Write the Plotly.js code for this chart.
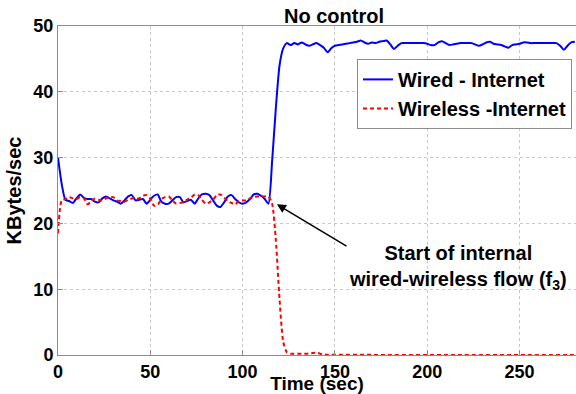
<!DOCTYPE html>
<html>
<head>
<meta charset="utf-8">
<script src="https://cdn.plot.ly/plotly-3.0.1.min.js"></script>
<style>html,body{margin:0;padding:0;background:#fff;}#chart{width:576px;height:394px;}</style>
</head>
<body>
<div id="chart"></div>
<script>
// Time (sec)
const timeSec = [0,2,4,6,8,10,12,14,16,18,20,22,24,26,28,30,32,34,36,38,40,42,44,46,48,50,52,54,56,58,60,62,64,66,68,70,72,74,76,78,80,82,84,86,88,90,92,94,96,98,100,102,104,106,108,110,112,114,116,118,120,122,124,126,128,130,132,134,136,138,140,142,144,146,148,150,152,154,156,158,160,162,164,166,168,170,172,174,176,178,180,182,184,186,188,190,192,194,196,198,200,202,204,206,208,210,212,214,216,218,220,222,224,226,228,230,232,234,236,238,240,242,244,246,248,250,252,254,256,258,260,262,264,266,268,270,272,274,276,278,280];

// Wired - Internet (KBytes/sec)
const wiredInternet = [30.0,26.0,23.6,23.4,23.1,23.8,24.4,23.9,23.7,23.7,23.3,23.2,23.8,24.1,23.8,23.5,23.3,23.0,23.5,24.1,24.3,23.5,23.6,23.7,23.0,23.6,24.2,24.4,23.3,23.0,23.0,23.5,24.0,24.0,23.2,23.4,23.6,23.0,23.8,24.4,24.5,24.3,23.5,22.7,22.5,23.2,24.1,24.3,23.7,23.2,23.0,23.2,23.7,24.4,24.5,24.2,23.7,23.0,29.5,37.5,44.0,46.6,47.4,47.1,47.4,47.2,47.5,47.2,47.0,47.2,47.4,47.1,46.7,46.0,46.6,47.0,47.1,47.2,47.3,47.4,47.5,47.6,47.8,47.5,47.3,47.5,47.4,47.6,47.7,47.8,47.2,46.5,47.0,47.4,47.4,47.4,47.4,47.4,47.4,47.4,47.3,47.1,47.1,47.5,47.7,47.4,47.1,47.2,47.3,47.4,47.4,47.4,47.4,47.2,47.0,47.2,47.5,47.6,47.3,47.2,47.1,46.9,46.7,47.1,47.2,47.3,47.5,47.5,47.4,47.4,47.4,47.4,47.4,47.4,47.4,47.4,47.0,46.4,47.0,47.5,47.6];

// Wireless - Internet (KBytes/sec)
const wirelessInternet = [18.5,23.5,23.7,24.0,23.8,23.7,24.0,23.8,22.9,23.4,23.8,23.6,23.5,23.8,24.0,24.0,23.5,23.4,23.3,23.6,23.8,23.8,23.8,24.2,24.3,23.8,22.7,22.8,23.7,24.0,24.1,23.5,23.0,23.1,23.2,23.6,23.9,24.4,24.3,23.6,23.0,23.2,23.6,24.3,24.4,23.9,23.4,23.1,22.9,23.4,23.5,23.5,23.8,24.0,24.1,24.1,24.1,24.1,23.0,17.5,8.5,2.0,0.4,0.2,0.2,0.2,0.2,0.2,0.2,0.3,0.35,0.2,0.1,0.05,0.05,0.05,0.05,0.05,0.05,0.05,0.05,0.05,0.05,0.05,0.05,0.05,0,0,0,0,0,0,0,0,0,0,0,0,0,0,0,0,0,0,0,0,0,0,0,0,0,0,0,0,0,0,0,0,0,0,0,0,0,0,0,0,0,0,0,0,0,0,0,0,0,0,0,0,0,0,0];

const seriesNames = ['Wired - Internet', 'Wireless -Internet'];
const xTicks = [0, 50, 100, 150, 200, 250];
const yTicks = [0, 10, 20, 30, 40, 50];

const FONT = 'Liberation Sans, Arial, sans-serif';
const bold = (size) => ({family: FONT, size: size, color: '#000', weight: 'bold'});

const traces = [
  {x: timeSec, y: wiredInternet, name: seriesNames[0], type: 'scatter', mode: 'lines',
   line: {color: '#0000ff', width: 2, shape: 'spline', smoothing: 0.6}},
  {x: timeSec, y: wirelessInternet, name: seriesNames[1], type: 'scatter', mode: 'lines',
   line: {color: '#ff0000', width: 2, dash: '4px,3px', shape: 'spline', smoothing: 0.6}}
];

const axisCommon = {
  showline: true, linecolor: '#8c8c8c', linewidth: 1, mirror: true,
  showgrid: true, gridcolor: '#c8c8c8', gridwidth: 1, griddash: 'dot',
  ticks: 'inside', ticklen: 5, tickcolor: '#8c8c8c',
  zeroline: false, tickfont: bold(18)
};

const layout = {
  width: 576, height: 394,
  margin: {l: 58, r: 0, t: 26, b: 39, pad: 0},
  paper_bgcolor: '#fff', plot_bgcolor: '#fff',
  font: bold(18),
  showlegend: true,
  title: {text: 'No control', font: bold(20), xref: 'container', x: 334/576, xanchor: 'center',
          yref: 'container', y: 1 - 16/394, yanchor: 'middle'},
  xaxis: Object.assign({}, axisCommon, {range: [0, 280.6], tickvals: xTicks, ticktext: xTicks.map(String),
          title: {text: 'Time (sec)', font: bold(19), standoff: 2}}),
  yaxis: Object.assign({}, axisCommon, {range: [0, 50], tickvals: yTicks, ticktext: yTicks.map(String),
          title: {text: 'KBytes/sec', font: bold(20), standoff: 6}}),
  legend: {x: (572 - 58) / 518, y: 0.9, xanchor: 'right', yanchor: 'top', bgcolor: '#fff',
           bordercolor: '#8c8c8c', borderwidth: 1, font: bold(20), itemwidth: 30,
           tracegroupgap: 0},
  annotations: [
    {x: 118.6, y: 22.9, ax: 157.1, ay: 16.4, xref: 'x', yref: 'y', axref: 'x', ayref: 'y',
     text: '', showarrow: true, arrowhead: 2, arrowsize: 1.2, arrowwidth: 1.5, arrowcolor: '#000'},
    {x: 216.7, y: 13.3, xref: 'x', yref: 'y', showarrow: false, align: 'center',
     text: 'Start of internal<br>wired-wireless flow (f<sub>3</sub>)', font: bold(20)}
  ]
};

Plotly.newPlot('chart', traces, layout, {displayModeBar: false, staticPlot: true});
</script>
</body>
</html>
